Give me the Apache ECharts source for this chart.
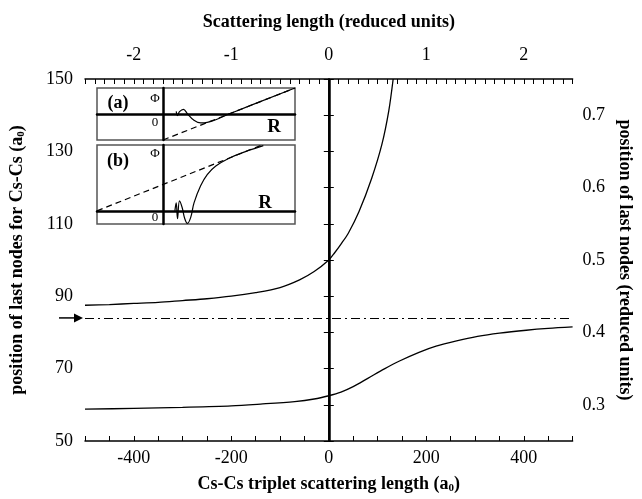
<!DOCTYPE html>
<html>
<head>
<meta charset="utf-8">
<script src="https://cdn.jsdelivr.net/npm/echarts@6/dist/echarts.min.js"></script>
<style>
html, body { margin: 0; padding: 0; background: #fff; }
#chart { width: 642px; height: 499px; }
</style>
</head>
<body>
<div id="chart"></div>
<script>
// last node position (a0) vs Cs-Cs triplet scattering length (a0)
const upperLength = [-500, -450, -400, -350, -300, -250, -200, -150, -100, -60, -30, 0, 12, 25, 40, 62, 88, 109, 123, 132]
const upperNode = [87.5, 87.7, 88.0, 88.3, 88.8, 89.3, 90.0, 91.0, 92.4, 94.5, 96.8, 100, 102.0, 104.4, 107.4, 113.4, 122.6, 132.0, 141.2, 150]
const lowerLength = [-500, -400, -300, -200, -140, -70, -30, 0, 25, 50, 80, 115, 145, 185, 220, 260, 305, 350, 405, 450, 500]
const lowerNode = [58.8, 59.0, 59.3, 59.7, 60.2, 60.9, 61.6, 62.5, 63.5, 65.0, 67.3, 70.0, 72.1, 74.5, 76.2, 77.6, 78.9, 79.8, 80.6, 81.1, 81.5]
const limitNode = 84

// inset sketches: wavefunction Phi(R) and its asymptote
const insetA_R = [0.20, 0.22, 0.25, 0.31, 0.37, 0.46, 0.57, 0.67, 0.79, 1.02, 2.0]
const insetA_Phi = [0.10, -0.06, 0.09, 0.18, 0.01, -0.22, -0.34, -0.32, -0.23, 0.02, 1.0]
const insetA_lineR = [0, 2]
const insetA_linePhi = [-1, 1]
const insetB_R = [0.18, 0.20, 0.22, 0.25, 0.29, 0.33, 0.37, 0.42, 0.47, 0.57, 0.67, 0.80, 1.00, 1.25, 1.52]
const insetB_Phi = [0.0, 0.12, -0.12, 0.15, 0.05, -0.12, -0.19, -0.10, 0.12, 0.38, 0.55, 0.68, 0.80, 0.90, 0.99]
const insetB_lineR = [-1, 1.5]
const insetB_linePhi = [0, 1.0]

const FONT = 'Liberation Serif'
const pairs = (xs, ys) => xs.map((x, i) => [x, ys[i]])

const tickLabel = { color: '#000', fontFamily: FONT, fontSize: 18 }
const titleStyle = {
  color: '#000', fontFamily: FONT, fontSize: 18, fontWeight: 'bold',
  rich: {
    b: { fontFamily: FONT, fontSize: 18, fontWeight: 'bold', color: '#000' },
    s: { fontFamily: FONT, fontSize: 11, fontWeight: 'bold', color: '#000', verticalAlign: 'bottom', padding: [9, 0, 0, 0] },
  },
}
const frameLine = { lineStyle: { color: '#000', width: 1.5 } }
const tick = { show: true, inside: true, length: 5, lineStyle: { color: '#000', width: 1 } }
const minor = (n) => ({ show: true, splitNumber: n, length: 5, lineStyle: { color: '#000', width: 1 } })

function insetAxes(grid, xmin, xmax, ymin, ymax) {
  const line = { onZero: true, lineStyle: { color: '#000', width: 2.5 } }
  const common = { type: 'value', gridIndex: grid, z: 8, axisLine: line, axisTick: { show: false }, axisLabel: { show: false }, splitLine: { show: false } }
  return {
    x: { ...common, min: xmin, max: xmax },
    y: { ...common, min: ymin, max: ymax },
  }
}
const axA = insetAxes(1, -1, 2, -1, 1)
const axB = insetAxes(2, -1, 2, -0.2, 1)

const curve = { type: 'line', symbol: 'none', lineStyle: { color: '#000', width: 1.3 }, itemStyle: { color: '#000' } }

const chart = echarts.init(document.getElementById('chart'))

chart.setOption({
  animation: false,
  backgroundColor: '#fff',
  grid: [
    { left: 83, right: 66, top: 79, bottom: 58 },
    { left: 97, top: 88, width: 198, height: 52, show: true, backgroundColor: '#fff', borderColor: '#555', borderWidth: 1.5, z: 5 },
    { left: 97, top: 145, width: 198, height: 79, show: true, backgroundColor: '#fff', borderColor: '#555', borderWidth: 1.5, z: 5 },
  ],
  xAxis: [
    {
      type: 'value', gridIndex: 0, position: 'bottom', min: -500, max: 500, interval: 100,
      axisLine: frameLine, axisTick: tick, minorTick: minor(2), splitLine: { show: false },
      axisLabel: { ...tickLabel, margin: 8, formatter: v => (v % 200 === 0 && Math.abs(v) < 500) ? String(v) : '' },
      name: '{b|Cs-Cs triplet scattering length (a}{s|0}{b|)}', nameLocation: 'middle', nameGap: 33, nameTextStyle: titleStyle,
    },
    {
      type: 'value', gridIndex: 0, position: 'top', min: -2.5, max: 2.5, interval: 0.5,
      axisLine: frameLine, axisTick: tick, minorTick: minor(5), splitLine: { show: false },
      axisLabel: { ...tickLabel, margin: 15, formatter: v => {
        const r = Math.round(v)
        return (Math.abs(v - r) < 1e-6 && Math.abs(v) < 2.4) ? String(r) : ''
      } },
      name: 'Scattering length (reduced units)', nameLocation: 'middle', nameGap: 48, nameTextStyle: titleStyle,
    },
    axA.x,
    axB.x,
  ],
  yAxis: [
    {
      type: 'value', gridIndex: 0, position: 'left', min: 50, max: 150, interval: 20,
      axisLine: frameLine, axisTick: tick, minorTick: minor(2), splitLine: { show: false },
      axisLabel: { ...tickLabel, margin: 12 },
      name: '{b|position of last nodes for Cs-Cs (a}{s|0}{b|)}', nameLocation: 'middle', nameGap: 58, nameTextStyle: titleStyle,
    },
    {
      type: 'value', gridIndex: 0, position: 'right', min: 0.25, max: 0.75, interval: 0.05,
      axisLine: frameLine, axisTick: tick, splitLine: { show: false },
      axisLabel: { ...tickLabel, margin: 10, formatter: v => {
        const k = Math.round(v * 100)
        return (k % 10 === 0 && v > 0.26 && v < 0.74) ? (k / 100).toFixed(1) : ''
      } },
      name: 'position of last nodes (reduced units)', nameLocation: 'middle', nameRotate: -90, nameGap: 42, nameTextStyle: titleStyle,
    },
    axA.y,
    axB.y,
  ],
  series: [
    { ...curve, name: 'upper', xAxisIndex: 0, yAxisIndex: 0, smooth: 0.3, data: pairs(upperLength, upperNode) },
    {
      ...curve, name: 'lower', xAxisIndex: 0, yAxisIndex: 0, smooth: 0.3, data: pairs(lowerLength, lowerNode),
      markLine: {
        silent: true, symbol: 'none', label: { show: false },
        data: [
          { xAxis: 0, lineStyle: { color: '#000', type: 'solid', width: 2.5 } },
          { yAxis: limitNode, lineStyle: { color: '#000', type: [9, 4, 2, 4], width: 1 } },
        ],
      },
    },
    { ...curve, z: 9, xAxisIndex: 2, yAxisIndex: 2, lineStyle: { color: '#000', width: 1.2, type: [6, 4] }, data: pairs(insetA_lineR, insetA_linePhi) },
    { ...curve, z: 9, xAxisIndex: 2, yAxisIndex: 2, smooth: 0.4, lineStyle: { color: '#000', width: 1.2 }, data: pairs(insetA_R, insetA_Phi) },
    { ...curve, z: 9, xAxisIndex: 3, yAxisIndex: 3, lineStyle: { color: '#000', width: 1.2, type: [6, 4] }, data: pairs(insetB_lineR, insetB_linePhi) },
    { ...curve, z: 9, xAxisIndex: 3, yAxisIndex: 3, smooth: 0.4, lineStyle: { color: '#000', width: 1.2 }, data: pairs(insetB_R, insetB_Phi) },
  ],
})

// arrow pointing at the limit value on the left axis, inset captions
const arrowY = chart.convertToPixel({ yAxisIndex: 0 }, limitNode)
const txt = (x, y, s, size, weight) => ({
  type: 'text', x, y, z: 20,
  style: { text: s, fontFamily: FONT, fontSize: size, fontWeight: weight || 'normal', fill: '#000', align: 'center', verticalAlign: 'middle' },
})
chart.setOption({
  graphic: [
    { type: 'line', z: 20, shape: { x1: 59, y1: arrowY, x2: 76, y2: arrowY }, style: { stroke: '#000', lineWidth: 1.5 } },
    { type: 'polygon', z: 20, shape: { points: [[74, arrowY - 4.5], [83, arrowY], [74, arrowY + 4.5]] }, style: { fill: '#000' } },
    txt(118, 103, '(a)', 18, 'bold'),
    txt(155, 99, 'Φ', 13),
    txt(155, 123, '0', 13),
    txt(274, 127, 'R', 19, 'bold'),
    txt(118, 161, '(b)', 18, 'bold'),
    txt(155, 154, 'Φ', 13),
    txt(155, 218, '0', 13),
    txt(265, 203, 'R', 19, 'bold'),
  ],
})
</script>
</body>
</html>
